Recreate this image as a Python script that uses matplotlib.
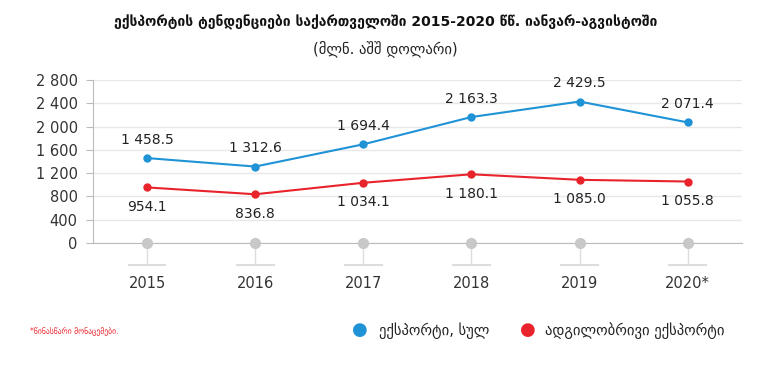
import matplotlib
matplotlib.use("Agg")
import matplotlib.pyplot as plt

# data
years = ["2015", "2016", "2017", "2018", "2019", "2020*"]
export_total = [1458.5, 1312.6, 1694.4, 2163.3, 2429.5, 2071.4]
export_local = [954.1, 836.8, 1034.1, 1180.1, 1085.0, 1055.8]
yticks = [0, 400, 800, 1200, 1600, 2000, 2400, 2800]

blue = "#1f93d6"
red = "#e8232b"
grey = "#c8c8c8"

def fmt(v, dec=1):
    s = f"{v:,.{dec}f}" if dec else f"{v:,.0f}"
    return s.replace(",", " ")

fig = plt.figure(figsize=(7.71, 3.69), dpi=100)
ax = fig.add_axes([0.1206, 0.3415, 0.8414, 0.4418])
x = list(range(len(years)))

ax.plot(x, export_total, color=blue, lw=1.5, marker="o", ms=5, zorder=3)
ax.plot(x, export_local, color=red, lw=1.5, marker="o", ms=5, zorder=3)
# grey dots on the zero line
ax.plot(x, [0]*len(x), ls="none", marker="o", ms=7, color=grey, zorder=3, clip_on=False)

for i in x:
    ax.annotate(fmt(export_total[i]), (i, export_total[i]), xytext=(0, 8),
                textcoords="offset points", ha="center", va="bottom", fontsize=10, color="#222222")
    ax.annotate(fmt(export_local[i]), (i, export_local[i]), xytext=(0, -9),
                textcoords="offset points", ha="center", va="top", fontsize=10, color="#222222")
    # the little stems under the axis
    ax.plot([i, i], [0, -380], color="#dddddd", lw=1, clip_on=False, zorder=1)
    ax.plot([i - 0.17, i + 0.17], [-380, -380], color="#dddddd", lw=1.5, clip_on=False, zorder=1)

ax.set_xlim(-0.5, 5.5)
ax.set_ylim(0, 2800)
ax.set_yticks(yticks)
ax.set_yticklabels([fmt(v, 0) for v in yticks], fontsize=10.5, color="#333333")
ax.set_xticks(x)
ax.set_xticklabels(years, fontsize=10.5, color="#333333")
ax.tick_params(axis="x", length=0, pad=24)
ax.tick_params(axis="y", length=5, color="#bbbbbb", pad=6)
ax.grid(axis="y", color="#e8e8e8", lw=1)
ax.set_axisbelow(True)
for s in ["top", "right"]:
    ax.spines[s].set_visible(False)
ax.spines["left"].set_color("#bbbbbb")
ax.spines["bottom"].set_color("#bbbbbb")

fig.text(0.5, 0.94, "ექსპორტის ტენდენციები საქართველოში 2015-2020 წწ. იანვარ-აგვისტოში",
         ha="center", va="center", fontsize=10, fontweight="bold", color="#111111")
fig.text(0.5, 0.868, "(მლნ. აშშ დოლარი)", ha="center", va="center", fontsize=10.5, color="#222222")

fig.text(0.039, 0.105, "*წინასწარი მონაცემები.", ha="left", va="center", fontsize=5.5, color=red)

# legend
fig.text(0.467, 0.105, "●", ha="center", va="center", fontsize=13, color=blue)
fig.text(0.492, 0.105, "ექსპორტი, სულ", ha="left", va="center", fontsize=10.5, color="#222222")
fig.text(0.685, 0.105, "●", ha="center", va="center", fontsize=13, color=red)
fig.text(0.707, 0.105, "ადგილობრივი ექსპორტი", ha="left", va="center", fontsize=10.5, color="#222222")

fig.savefig("out.png", dpi=100, facecolor="white")
